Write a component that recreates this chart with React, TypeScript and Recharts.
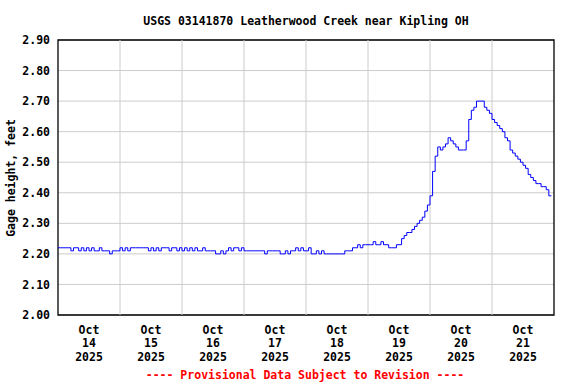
import React from 'react';
import { LineChart, Line, XAxis, YAxis, CartesianGrid, ReferenceLine, ReferenceArea } from 'recharts';

// Gage height (feet), hourly readings starting Oct 14 2025 00:00
const OCT14 = [2.22, 2.22, 2.22, 2.22, 2.22, 2.21, 2.22, 2.22, 2.21, 2.22, 2.21, 2.22, 2.21, 2.22, 2.21, 2.21, 2.22, 2.21, 2.21, 2.21, 2.20, 2.21, 2.21, 2.21];
const OCT15 = [2.22, 2.21, 2.22, 2.21, 2.22, 2.22, 2.22, 2.22, 2.22, 2.22, 2.22, 2.21, 2.22, 2.21, 2.22, 2.21, 2.22, 2.22, 2.22, 2.21, 2.22, 2.22, 2.21, 2.22];
const OCT16 = [2.21, 2.22, 2.21, 2.22, 2.21, 2.22, 2.21, 2.21, 2.22, 2.21, 2.21, 2.21, 2.21, 2.20, 2.20, 2.21, 2.20, 2.21, 2.22, 2.21, 2.22, 2.22, 2.21, 2.22];
const OCT17 = [2.21, 2.21, 2.21, 2.21, 2.21, 2.21, 2.21, 2.21, 2.20, 2.21, 2.21, 2.21, 2.21, 2.21, 2.20, 2.20, 2.21, 2.20, 2.21, 2.21, 2.22, 2.21, 2.22, 2.21];
const OCT18 = [2.21, 2.22, 2.20, 2.20, 2.21, 2.20, 2.21, 2.20, 2.20, 2.20, 2.20, 2.20, 2.20, 2.20, 2.20, 2.21, 2.21, 2.21, 2.22, 2.22, 2.23, 2.22, 2.23, 2.23];
const OCT19 = [2.23, 2.23, 2.24, 2.23, 2.23, 2.24, 2.23, 2.23, 2.22, 2.22, 2.22, 2.23, 2.23, 2.25, 2.26, 2.27, 2.27, 2.28, 2.29, 2.30, 2.31, 2.32, 2.34, 2.36];
const OCT20 = [2.39, 2.47, 2.52, 2.55, 2.54, 2.55, 2.56, 2.58, 2.57, 2.56, 2.55, 2.54, 2.54, 2.54, 2.57, 2.64, 2.67, 2.68, 2.70, 2.70, 2.70, 2.68, 2.67, 2.66];
const OCT21 = [2.64, 2.63, 2.62, 2.61, 2.60, 2.58, 2.57, 2.54, 2.53, 2.52, 2.51, 2.50, 2.49, 2.48, 2.46, 2.45, 2.44, 2.43, 2.43, 2.42, 2.42, 2.41, 2.39, 2.39];

const DAYS = [OCT14, OCT15, OCT16, OCT17, OCT18, OCT19, OCT20, OCT21];
const DAY_LABELS = ['14', '15', '16', '17', '18', '19', '20', '21'];
const MONTH_LABEL = 'Oct';
const YEAR_LABEL = '2025';
const LABEL_HOURS = [12, 36, 60, 84, 108, 132, 156, 180];
const MIDNIGHT_HOURS = [24, 48, 72, 96, 120, 144, 168];
const Y_TICKS = [2.0, 2.1, 2.2, 2.3, 2.4, 2.5, 2.6, 2.7, 2.8, 2.9];

const TITLE = 'USGS 03141870 Leatherwood Creek near Kipling OH';
const Y_LABEL = 'Gage height, feet';
const FOOTER = '---- Provisional Data Subject to Revision ----';

const data: { hour: number; value: number }[] = [];
DAYS.forEach((day, d) => {
  day.forEach((v, h) => data.push({ hour: d * 24 + h, value: v }));
});

const FONT = '"DejaVu Sans Mono", monospace';
const FS = 11.5;

const XTick = (props: any) => {
  const { x, y, payload } = props;
  const idx = LABEL_HOURS.indexOf(payload.value);
  const day = idx >= 0 ? DAY_LABELS[idx] : '';
  return (
    <g>
      <text x={x} y={y} textAnchor="middle" fontFamily={FONT} fontSize={FS} fontWeight="bold" fill="#000">
        <tspan x={x} dy={11}>{MONTH_LABEL}</tspan>
        <tspan x={x} dy={13.3}>{day}</tspan>
        <tspan x={x} dy={13.3}>{YEAR_LABEL}</tspan>
      </text>
    </g>
  );
};

export default function App() {
  return (
    <div style={{ position: 'absolute', left: 0, top: 0, width: 576, height: 384, background: '#fff' }}>
      <LineChart width={576} height={384} data={data} margin={{ top: 40, right: 22, bottom: 0, left: 0 }}>
        <CartesianGrid vertical={false} stroke="#cccccc" strokeWidth={1} />
        {MIDNIGHT_HOURS.map((h) => (
          <ReferenceLine key={h} x={h} stroke="#cccccc" strokeWidth={1} />
        ))}
        <XAxis
          type="number"
          dataKey="hour"
          domain={[0, 192]}
          ticks={LABEL_HOURS}
          interval={0}
          tickLine={false}
          axisLine={false}
          height={69}
          tick={<XTick />}
        />
        <YAxis
          type="number"
          domain={[2.0, 2.9]}
          ticks={Y_TICKS}
          interval={0}
          width={58}
          tickLine={false}
          axisLine={false}
          tickFormatter={(v: number) => v.toFixed(2)}
          tick={{ fontFamily: FONT, fontSize: FS, fontWeight: 'bold', fill: '#000' }}
        />
        <ReferenceArea x1={0} x2={192} y1={2.0} y2={2.9} fill="none" stroke="#000" strokeWidth={1.3} />
        <Line
          type="stepAfter"
          dataKey="value"
          stroke="#0000ff"
          strokeWidth={1}
          dot={false}
          isAnimationActive={false}
        />
      </LineChart>
      <svg width={576} height={384} style={{ position: 'absolute', left: 0, top: 0, pointerEvents: 'none' }}>
        <text x={306} y={21} textAnchor="middle" dominantBaseline="central" fontFamily={FONT} fontSize={FS} fontWeight="bold" fill="#000">
          {TITLE}
        </text>
        <text
          x={11}
          y={178}
          textAnchor="middle"
          dominantBaseline="central"
          fontFamily={FONT}
          fontSize={FS}
          fontWeight="bold"
          fill="#000"
          transform="rotate(-90 11 178)"
        >
          {Y_LABEL}
        </text>
        <text x={305} y={375} textAnchor="middle" dominantBaseline="central" fontFamily={FONT} fontSize={FS} fontWeight="bold" fill="#ff0000">
          {FOOTER}
        </text>
      </svg>
    </div>
  );
}
